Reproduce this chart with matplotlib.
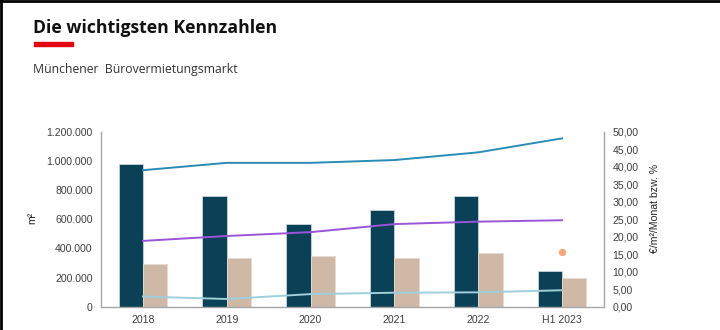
import matplotlib
matplotlib.use("Agg")
import matplotlib.pyplot as plt
import numpy as np
from matplotlib.lines import Line2D
from matplotlib.patches import Rectangle

categories = ["2018", "2019", "2020", "2021", "2022", "H1 2023"]
flaechenumsatz = [976000, 757000, 569000, 663000, 757000, 247000]
leerstand_m2 = [291000, 332000, 346000, 332000, 370000, 199000]
spitzenmiete = [39.0, 41.1, 41.1, 41.9, 44.1, 48.1]
durchschnittsmiete = [18.8, 20.2, 21.3, 23.6, 24.3, 24.7]
leerstandsquote = [2.9, 2.2, 3.6, 4.0, 4.1, 4.7]
sonderwert_x = ["H1 2023"]
sonderwert = [15.5]

left_ticks = [0, 200000, 400000, 600000, 800000, 1000000, 1200000]
left_labels = ["0", "200.000", "400.000", "600.000", "800.000", "1.000.000", "1.200.000"]
right_ticks = [0, 5, 10, 15, 20, 25, 30, 35, 40, 45, 50]
right_labels = ["0,00", "5,00", "10,00", "15,00", "20,00", "25,00", "30,00", "35,00", "40,00", "45,00", "50,00"]

plt.rcParams['font.family'] = ['Liberation Sans', 'DejaVu Sans']

fig = plt.figure(figsize=(7.2, 3.3), dpi=100)
ax = fig.add_axes([101/720, 1-306.7/330, 503/720, 175/330])
ax2 = ax.twinx()

x = np.arange(len(categories))
w = 0.29
ax.bar(x - w/2, flaechenumsatz, width=w, color="#0b4157", edgecolor="#c9d6dc", linewidth=0.6, zorder=2)
ax.bar(x + w/2, leerstand_m2, width=w, color="#cfb8a6", edgecolor="#e6dad0", linewidth=0.6, zorder=2)

ax2.plot(x, spitzenmiete, color="#2a8cb4", lw=1.4, zorder=3)
ax2.plot(x, durchschnittsmiete, color="#9a55d8", lw=1.4, zorder=3)
ax2.plot(x, leerstandsquote, color="#9fcfdb", lw=1.4, zorder=3)
sx = [categories.index(c) for c in sonderwert_x]
ax2.scatter(sx, sonderwert, s=28, color="#f7a679", zorder=4, linewidths=0)

ax.set_xlim(-0.5, len(categories) - 0.5)
ax.set_ylim(0, 1200000)
ax2.set_ylim(0, 50)
ax.set_xticks(x)
ax.set_xticklabels(categories)
ax.set_yticks(left_ticks)
ax.set_yticklabels(left_labels)
ax2.set_yticks(right_ticks)
ax2.set_yticklabels(right_labels)

for a in (ax, ax2):
    for s in a.spines.values():
        s.set_visible(False)
    a.tick_params(length=0, labelsize=7.6, colors="#404040")
ax.spines['left'].set_visible(True)
ax.spines['bottom'].set_visible(True)
ax2.spines['right'].set_visible(True)
for s in (ax.spines['left'], ax.spines['bottom'], ax2.spines['right']):
    s.set_color("#a6a6a6")
    s.set_linewidth(1.0)
ax.tick_params(axis='y', pad=6)
ax.tick_params(axis='x', pad=6)
ax2.tick_params(axis='y', pad=6)

ax.set_ylabel("m²", fontsize=7.6, color="#262626")
ax.yaxis.set_label_coords(-0.127, 0.507)
ax2.set_ylabel("€/m²/Monat bzw. %", fontsize=7.6, color="#262626")
ax2.yaxis.set_label_coords(1.0915, 0.564)

fig.text(33/720, 1-28/330, "Die wichtigsten Kennzahlen", fontsize=12.7, fontweight="bold",
         family=["Open Sans", "DejaVu Sans"], color="#111111", va="center", ha="left")
fig.patches.append(Rectangle((34/720, 1-46.3/330), 39/720, 4.4/330, transform=fig.transFigure,
                             color="#e30613", zorder=5))
fig.text(33/720, 1-70/330, "Münchener  Bürovermietungsmarkt", fontsize=8.8,
         family=["Open Sans", "DejaVu Sans"], color="#333333", va="center", ha="left")

fig.add_artist(Line2D([0, 1], [1 - 0.5/330, 1 - 0.5/330], transform=fig.transFigure, color="black", lw=2))
fig.add_artist(Line2D([0.7/720, 0.7/720], [0, 1], transform=fig.transFigure, color="black", lw=2))

fig.savefig("out.png", dpi=100)
